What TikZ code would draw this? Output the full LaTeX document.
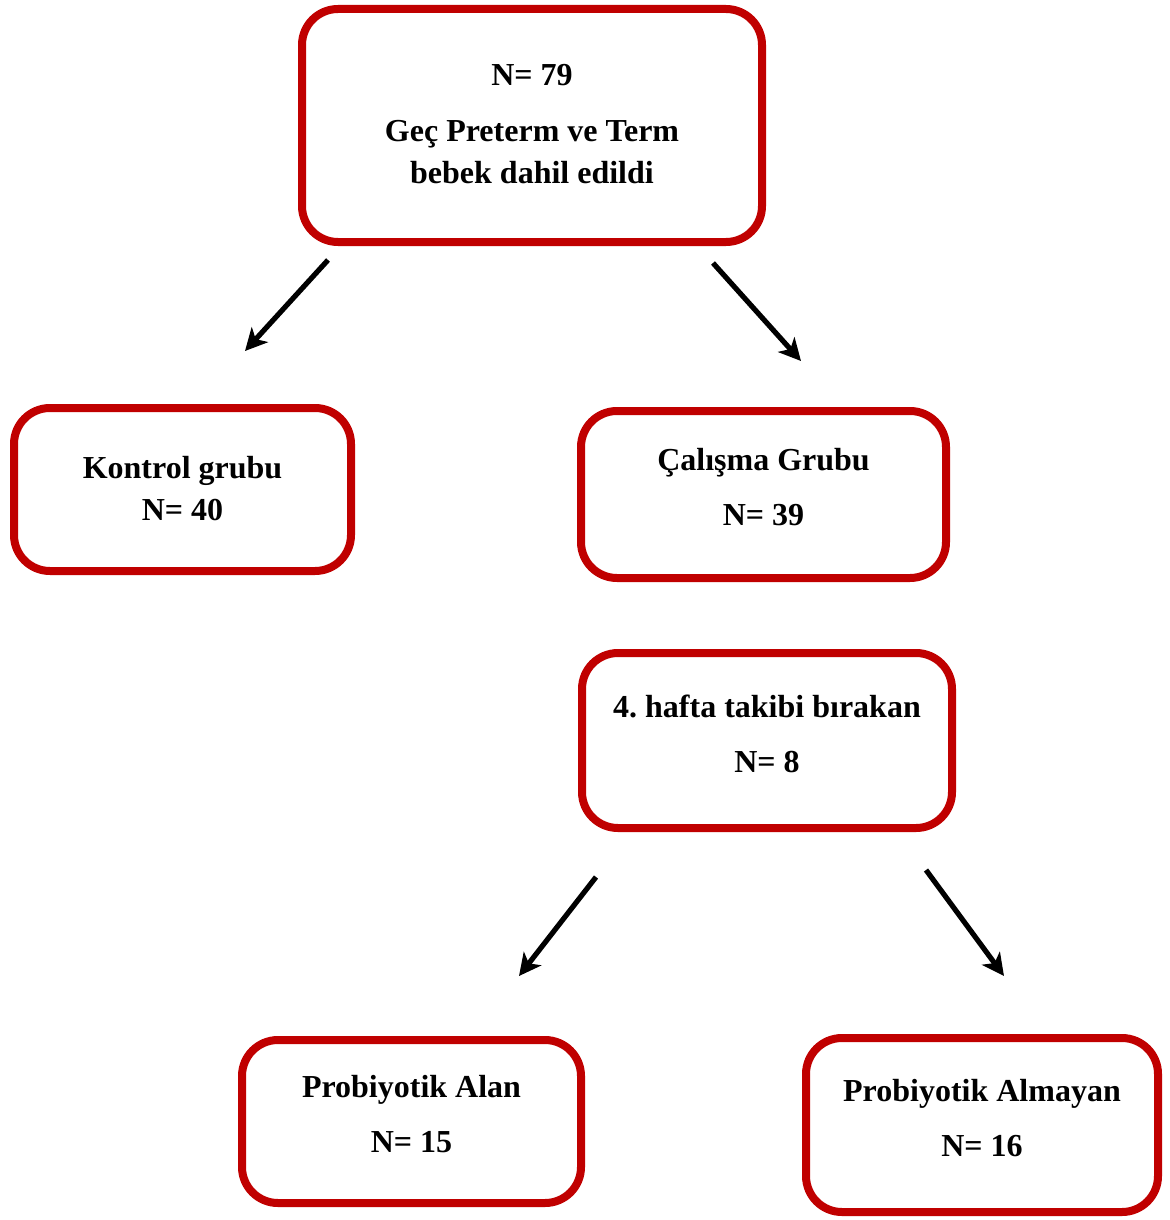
\documentclass[tikz,border=0pt]{standalone}
\usepackage{fontspec}
\setmainfont{Liberation Serif}
\usepackage{xcolor}
\usepackage{tikz}
\usetikzlibrary{positioning}
\usetikzlibrary{arrows.meta}
\definecolor{boxred}{HTML}{C00000}
\frenchspacing
\tikzset{
  kutu/.style={draw=boxred, line width=4pt, rounded corners=18pt, fill=white},
  yazi/.style={align=center, font=\bfseries\fontsize{16}{21}\selectfont, inner sep=0pt},
  ok/.style={draw, black, line width=2.6pt, -{Stealth[length=11pt,width=11pt,inset=3pt]}}
}
\begin{document}
\begin{tikzpicture}[x=0.5pt, y=-0.5pt]
 \useasboundingbox (0,0) rectangle (1170,1220);
 %l1
 \node[kutu, minimum width=230pt, minimum height=116.5pt] (l1) at (532,125.5) {};
 \node[yazi] (l1t) at (532,124) {N= 79\\[7pt] Geç Preterm ve Term\\ bebek dahil edildi};

 %l2
 \node[kutu, minimum width=168.5pt, minimum height=81.5pt] (l21) at (182.5,489.5) {};
 \node[yazi] (l21t) at (182.5,489) {Kontrol grubu\\ N= 40};
 \node[kutu, minimum width=182.5pt, minimum height=83.5pt] (l22) at (763.5,494.5) {};
 \node[yazi] (l22t) at (763.5,487) {Çalışma Grubu\\[6.5pt] N= 39};

 %l3
 \node[kutu, minimum width=185pt, minimum height=87.5pt] (l3) at (767,740.5) {};
 \node[yazi] (l3t) at (767,734) {4. hafta takibi bırakan\\[6.5pt] N= 8};

 %l4
 \node[kutu, minimum width=169.5pt, minimum height=81.5pt] (l41) at (411.5,1121.5) {};
 \node[yazi] (l41t) at (411.5,1114.5) {Probiyotik Alan\\[6.5pt] N= 15};
 \node[kutu, minimum width=176pt, minimum height=87pt] (l42) at (982,1125) {};
 \node[yazi] (l42t) at (982,1118.5) {Probiyotik Almayan\\[6.5pt] N= 16};

 %arrows
 \coordinate (a1s) at (328,260);  \coordinate (a1e) at (245,351);
 \coordinate (a2s) at (713,263);  \coordinate (a2e) at (801,361);
 \coordinate (a3s) at (596,877);  \coordinate (a3e) at (519,976);
 \coordinate (a4s) at (926,870);  \coordinate (a4e) at (1004,976);

 \path[ok] (a1s) -- (a1e);
 \path[ok] (a2s) -- (a2e);
 \path[ok] (a3s) -- (a3e);
 \path[ok] (a4s) -- (a4e);
\end{tikzpicture}
\end{document}
